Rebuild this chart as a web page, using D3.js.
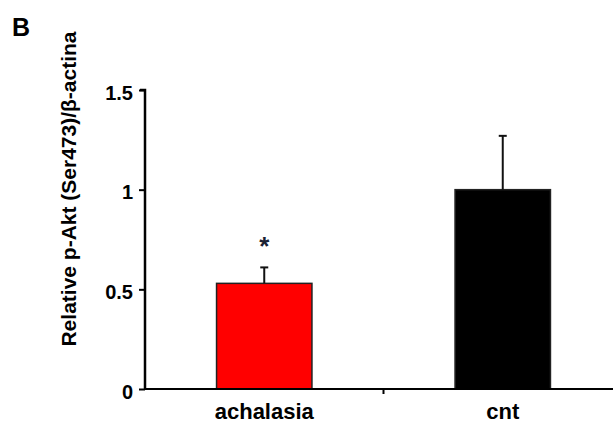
<!DOCTYPE html>
<html>
<head>
<meta charset="utf-8">
<script src="https://cdn.jsdelivr.net/npm/d3@7"></script>
<style>
  body { margin: 0; background: #fff; }
  text { font-family: Arial, "Liberation Sans", sans-serif; font-weight: bold; }
</style>
</head>
<body>
<div id="chart"></div>
<script>
// data
var categories = ["achalasia", "cnt"];
var values = [0.53, 1.0];
var errors = [0.08, 0.27];
var barColors = ["#ff0000", "#000000"];
var yTicks = [0, 0.5, 1, 1.5];
var yTickLabels = ["0", "0.5", "1", "1.5"];

var svgWidth = 613;
var svgHeight = 424;

var svg = d3.select("#chart")
  .append("svg")
  .attr("width", svgWidth)
  .attr("height", svgHeight);

// panel letter
svg.append("text")
  .attr("x", 12)
  .attr("y", 36)
  .attr("font-size", "25px")
  .text("B");

var xScale = d3.scaleBand()
  .domain(categories)
  .range([145, 622])
  .paddingInner(0.6)
  .paddingOuter(0.3);

var yScale = d3.scaleLinear()
  .domain([0, 1.5])
  .range([389, 90]);

// y axis
var leftAxis = d3.axisLeft(yScale)
  .tickValues(yTicks)
  .tickFormat(function(d, i) { return yTickLabels[i]; })
  .tickSize(6)
  .tickPadding(6);

var yAxisG = svg.append("g")
  .attr("transform", "translate(145,0)")
  .call(leftAxis);
yAxisG.select(".domain").attr("stroke-width", 2.5).attr("d", "M-5," + yScale(1.5) + "H0V" + yScale(0));
yAxisG.selectAll(".tick line").attr("stroke-width", 2);
yAxisG.selectAll(".tick text")
  .attr("font-size", "20px")
  .attr("dy", "0.45em")
  .attr("font-family", "Arial, 'Liberation Sans', sans-serif")
  .attr("font-weight", "bold")
  .attr("fill", "#000");

// bars
svg.selectAll("rect.bar")
  .data(categories)
  .enter()
  .append("rect")
  .attr("class", "bar")
  .attr("x", function(d) { return xScale(d); })
  .attr("width", xScale.bandwidth())
  .attr("y", function(d, i) { return yScale(values[i]); })
  .attr("height", function(d, i) { return yScale(0) - yScale(values[i]); })
  .attr("fill", function(d, i) { return barColors[i]; })
  .attr("stroke", "#222")
  .attr("stroke-width", 1.5);

// error bars (upper only)
var errG = svg.selectAll("g.err")
  .data(categories)
  .enter()
  .append("g")
  .attr("class", "err");

errG.append("line")
  .attr("x1", function(d) { return xScale(d) + xScale.bandwidth() / 2; })
  .attr("x2", function(d) { return xScale(d) + xScale.bandwidth() / 2; })
  .attr("y1", function(d, i) { return yScale(values[i]); })
  .attr("y2", function(d, i) { return yScale(values[i] + errors[i]); })
  .attr("stroke", "#111")
  .attr("stroke-width", 2);

errG.append("line")
  .attr("x1", function(d) { return xScale(d) + xScale.bandwidth() / 2 - 4; })
  .attr("x2", function(d) { return xScale(d) + xScale.bandwidth() / 2 + 4; })
  .attr("y1", function(d, i) { return yScale(values[i] + errors[i]); })
  .attr("y2", function(d, i) { return yScale(values[i] + errors[i]); })
  .attr("stroke", "#111")
  .attr("stroke-width", 2);

// x axis
var bottomAxis = d3.axisBottom(xScale).tickSize(0).tickPadding(14);
var xAxisG = svg.append("g")
  .attr("transform", "translate(0," + yScale(0) + ")")
  .call(bottomAxis);
xAxisG.select(".domain").attr("stroke-width", 2).attr("d", "M145,0H613");
xAxisG.selectAll(".tick text")
  .attr("font-size", "22px")
  .attr("font-family", "Arial, 'Liberation Sans', sans-serif")
  .attr("font-weight", "bold")
  .attr("fill", "#000");

// tick between the categories
var midX = (xScale(categories[0]) + xScale.bandwidth() + xScale(categories[1])) / 2;
xAxisG.append("line")
  .attr("x1", midX).attr("x2", midX)
  .attr("y1", 0).attr("y2", 5)
  .attr("stroke", "#000")
  .attr("stroke-width", 2);

// significance mark
svg.append("text")
  .attr("x", xScale(categories[0]) + xScale.bandwidth() / 2)
  .attr("y", yScale(values[0] + errors[0]) - 12)
  .attr("text-anchor", "middle")
  .attr("font-size", "26px")
  .attr("fill", "#1a2233")
  .text("*");

// y axis title
svg.append("text")
  .attr("transform", "translate(76," + 189 + ") rotate(-90)")
  .attr("text-anchor", "middle")
  .attr("font-size", "21px")
  .text("Relative p-Akt (Ser473)/β-actina");
</script>
</body>
</html>
